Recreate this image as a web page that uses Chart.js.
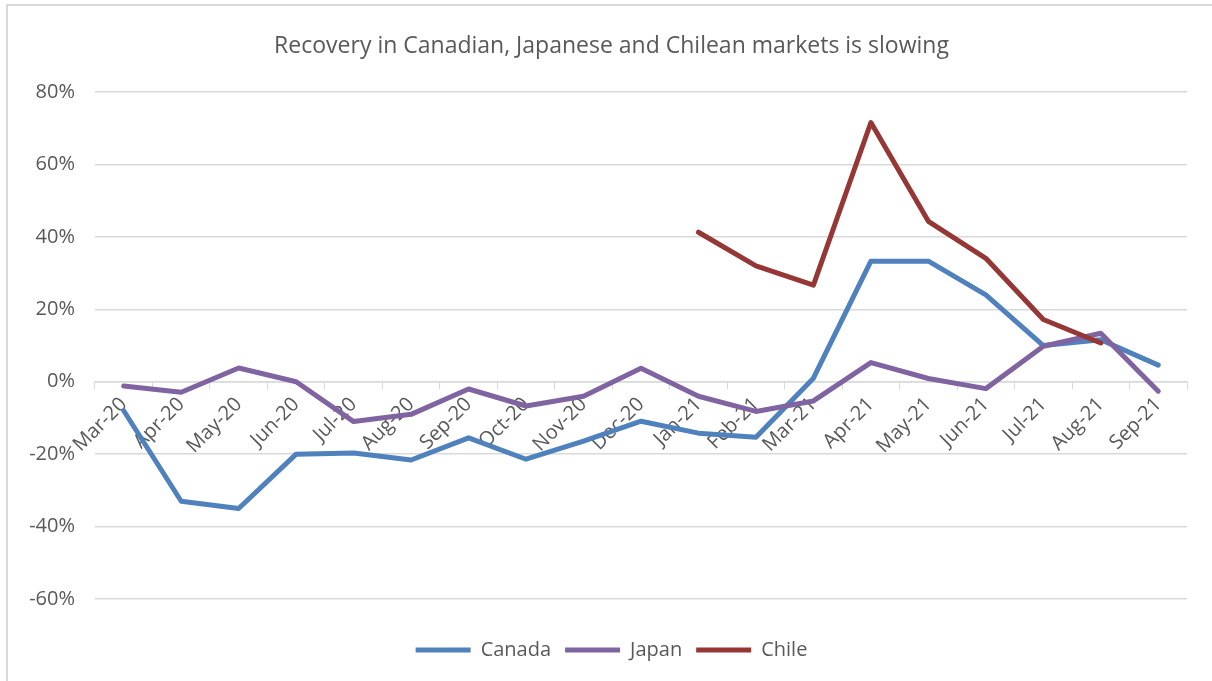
<!DOCTYPE html>
<html>
<head>
<meta charset="utf-8">
<script src="https://cdn.jsdelivr.net/npm/chart.js@4"></script>
<style>
  html, body { margin: 0; padding: 0; background: #fff; }
  #wrap { position: relative; width: 1212px; height: 681px; overflow: hidden; }
  #frame { position: absolute; left: 6px; top: 4px; width: 1300px; height: 800px;
           border-top: 2px solid #d9d9d9; border-left: 2px solid #d9d9d9; }
  canvas { position: absolute; left: 0; top: 0; }
</style>
</head>
<body>
<div id="wrap">
  <div id="frame"></div>
  <canvas id="lineChart" width="1212" height="681"></canvas>
</div>
<script>
const months = ['Mar-20', 'Apr-20', 'May-20', 'Jun-20', 'Jul-20', 'Aug-20', 'Sep-20', 'Oct-20', 'Nov-20', 'Dec-20',
  'Jan-21', 'Feb-21', 'Mar-21', 'Apr-21', 'May-21', 'Jun-21', 'Jul-21', 'Aug-21', 'Sep-21'];

// percent change
const canada = [-8, -33, -35, -20, -19.7, -21.6, -15.5, -21.4, -16.4, -10.9, -14.2, -15.3, 1, 33.3, 33.3, 24, 10, 11.6, 4.6];
const japan = [-1.2, -2.9, 3.8, 0, -11, -9, -2, -6.7, -4, 3.7, -4, -8.2, -5.3, 5.3, 0.9, -1.9, 9.8, 13.4, -2.6];
const chile = [null, null, null, null, null, null, null, null, null, null, 41.3, 32, 26.7, 71.6, 44.3, 34.1, 17.2, 10.7, null];

const yTicks = [-60, -40, -20, 0, 20, 40, 60, 80];

const grey = '#595959';
const font = '"Open Sans", Lato, sans-serif';

// order: lower number is drawn on top (Chile over Japan over Canada, as in Excel)
function series(label, data, color, order) {
  return {
    label: label,
    data: data,
    order: order,
    borderColor: color,
    backgroundColor: color,
    borderWidth: 5,
    borderCapStyle: 'round',
    borderJoinStyle: 'round',
    pointRadius: 0,
    pointHoverRadius: 0,
    pointStyle: 'line',
    tension: 0,
    spanGaps: false
  };
}

// y labels are clipped to the scale box; let them run into the left padding
const unclipY = {
  id: 'unclipY',
  afterLayout(chart) { chart.scales.y.left = 0; }
};

const ctx = document.getElementById('lineChart').getContext('2d');

new Chart(ctx, {
  type: 'line',
  data: {
    labels: months,
    datasets: [
      series('Canada', canada, '#4f81bd', 2),
      series('Japan', japan, '#8064a2', 1),
      series('Chile', chile, '#953735', 0)
    ]
  },
  plugins: [unclipY],
  options: {
    responsive: false,
    animation: false,
    layout: { padding: { left: 36, right: 25, top: 0, bottom: 11 } },
    plugins: {
      title: {
        display: true,
        text: 'Recovery in Canadian, Japanese and Chilean markets is slowing',
        color: grey,
        font: { family: font, size: 23, weight: 'normal' },
        padding: { top: 33, bottom: 31.5 }
      },
      legend: {
        position: 'bottom',
        labels: {
          usePointStyle: true,
          pointStyleWidth: 55,
          color: grey,
          font: { family: font, size: 20 },
          padding: 14,
          sort: (a, b) => a.datasetIndex - b.datasetIndex
        }
      },
      tooltip: { enabled: false }
    },
    scales: {
      x: {
        position: { y: 0 },
        offset: true,
        grid: {
          offset: true,
          drawOnChartArea: false,
          drawTicks: true,
          tickLength: 7,
          color: '#d9d9d9'
        },
        border: { display: true, color: '#d9d9d9', width: 1.5 },
        ticks: {
          autoSkip: false,
          maxRotation: 45,
          minRotation: 45,
          padding: 4,
          color: grey,
          font: { family: font, size: 20 }
        }
      },
      // empty bottom axis, only keeps the gap between plot and legend
      gap: {
        type: 'category',
        axis: 'x',
        position: 'bottom',
        grid: { display: false },
        border: { display: false },
        ticks: { display: false },
        afterFit: function (scale) { scale.height = 27; }
      },
      y: {
        min: -60,
        max: 80,
        afterFit: function (scale) { scale.width = 59; },
        afterBuildTicks: function (scale) { scale.ticks = yTicks.map(v => ({ value: v })); },
        grid: { color: '#d9d9d9', lineWidth: 1.5, drawTicks: false },
        border: { display: false },
        ticks: {
          padding: 20,
          color: grey,
          font: { family: font, size: 20 },
          callback: v => v + '%'
        }
      }
    }
  }
});
</script>
</body>
</html>
